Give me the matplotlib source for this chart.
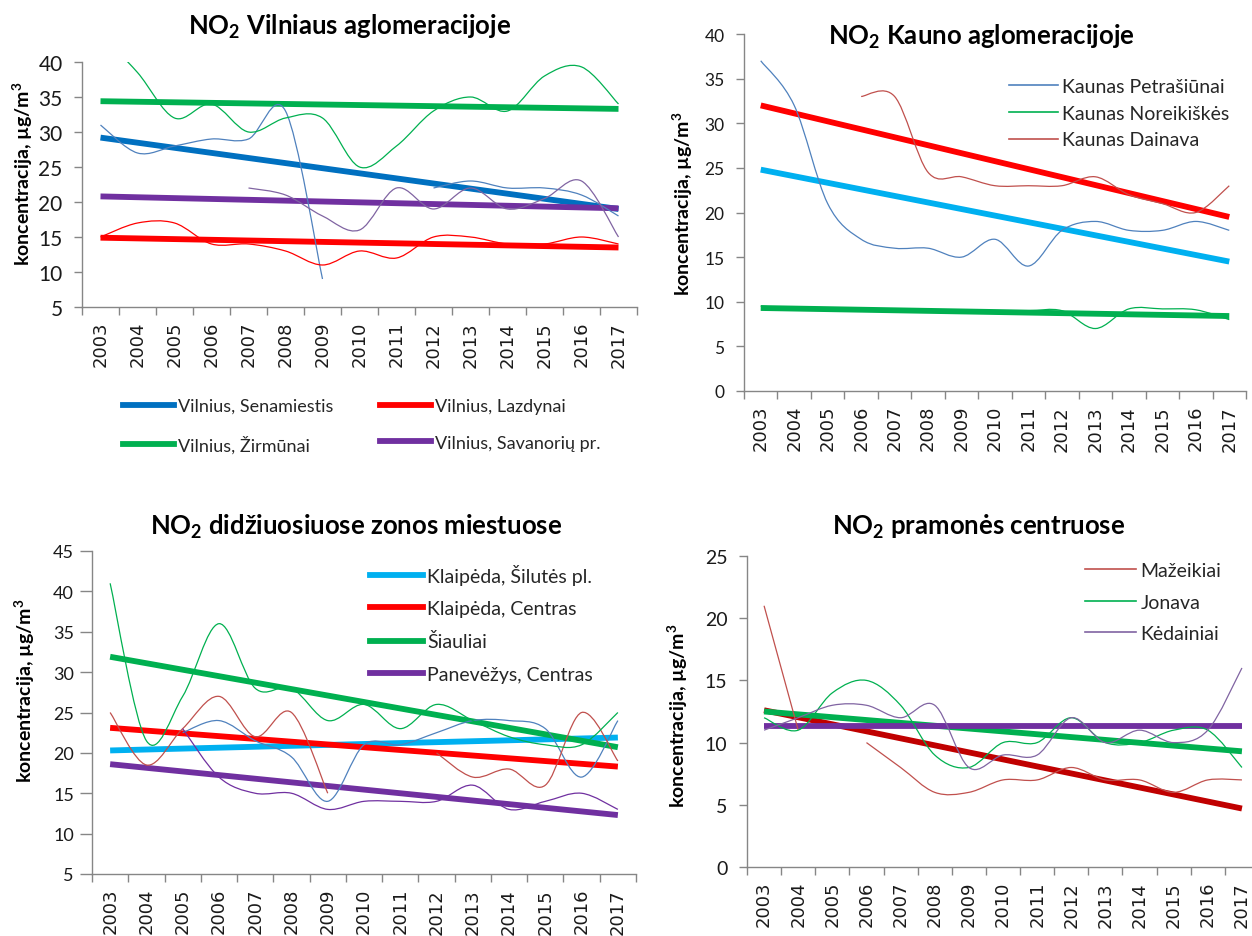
import numpy as np
import matplotlib
matplotlib.use('Agg')
import matplotlib.pyplot as plt
from matplotlib.path import Path
from matplotlib.patches import PathPatch
from matplotlib.lines import Line2D

plt.rcParams['font.family'] = ['Lato', 'DejaVu Sans']
plt.rcParams['mathtext.fontset'] = 'custom'
plt.rcParams['mathtext.rm'] = 'Lato'
plt.rcParams['mathtext.bf'] = 'Lato:bold'
plt.rcParams['mathtext.default'] = 'bf'

nan = np.nan
YEARS = [str(y) for y in range(2003, 2018)]

# --- Vilniaus aglomeracija ---
VIL_LABELS = ['Vilnius, Senamiestis', 'Vilnius, Lazdynai', 'Vilnius, Žirmūnai', 'Vilnius, Savanorių pr.']
VIL_SENAMIESTIS = [31, 27, 28, 29, 29, 33, 9, nan, nan, 22, 23, 22, 22, 21, 18]
VIL_LAZDYNAI = [15, 17, 17, 14, 14, 13, 11, 13, 12, 15, 15, 14, 14, 15, 14]
VIL_ZIRMUNAI = [44, 38.5, 32, 34, 30, 32, 32, 25, 28, 33, 35, 33, 38, 39.3, 34]
VIL_SAVANORIU = [nan, nan, nan, nan, 22, 21, 18, 16, 22, 19, 22, 19, 20.5, 23, 15]
VIL_TREND_START = [29.2, 14.9, 34.4, 20.8]
VIL_TREND_END = [19.0, 13.5, 33.3, 19.1]

# --- Kauno aglomeracija ---
KAU_LABELS = ['Kaunas Petrašiūnai', 'Kaunas Noreikiškės', 'Kaunas Dainava']
KAU_PETRASIUNAI = [37, 32, 21, 17, 16, 16, 15, 17, 14, 18, 19, 18, 18, 19, 18]
KAU_NOREIKISKES = [9.5, 9.3, 9.2, 9.1, 9.1, 9, 9, 9, 9, 9, 7, 9.2, 9.2, 9.1, 8]
KAU_DAINAVA = [nan, nan, nan, 33, 33, 24.5, 24, 23, 23, 23, 24, 22, 21, 20, 23]
KAU_TREND_START = [24.8, 9.3, 32.0]
KAU_TREND_END = [14.5, 8.4, 19.5]

# --- didžiuosiuose zonos miestuose ---
ZON_LABELS = ['Klaipėda, Šilutės pl.', 'Klaipėda, Centras', 'Šiauliai', 'Panevėžys, Centras']
KLA_SILUTES = [nan, nan, 22.5, 24, 21.5, 19.5, 14, 21, 21, 22.5, 24, 24, 23, 17, 24]
KLA_CENTRAS = [25, 18.5, 23, 27, 22, 25, 15, nan, nan, 20, 17, 18, 16, 25, 19]
SIAULIAI = [41, 21.5, 27, 36, 28, 28, 24, 26, 23, 26, 24, 22, 21, 21, 25]
PAN_CENTRAS = [nan, nan, 23, 17, 15, 15, 13, 14, 14, 14, 16, 13, 14, 15, 13]
ZON_TREND_START = [20.3, 23.1, 31.9, 18.6]
ZON_TREND_END = [21.9, 18.3, 20.7, 12.3]

# --- pramonės centrai ---
PRA_LABELS = ['Mažeikiai', 'Jonava', 'Kėdainiai']
MAZEIKIAI = [21, 11, nan, 10, 8, 6, 6, 7, 7, 8, 7, 7, 6, 7, 7]
JONAVA = [12, 11, 14, 15, 13, 9, 8, 10, 10, 12, 10, 10, 11, 11, 8]
KEDAINIAI = [11, 12, 13, 13, 12, 13, 8, 9, 9, 12, 10, 11, 10, 11, 16]
PRA_TREND_START = [12.6, 12.5, 11.3]
PRA_TREND_END = [4.7, 9.3, 11.3]

GRID_GRAY = '#868686'
W, H = 1252, 937


def smooth_line(ax, values, color, lw=0.9, zorder=4):
    """Excel-like smoothed line (Catmull-Rom as cubic Bezier), broken at gaps."""
    y = np.asarray(values, dtype=float)
    x = np.arange(len(y), dtype=float)
    idx = np.where(~np.isnan(y))[0]
    runs = np.split(idx, np.where(np.diff(idx) > 1)[0] + 1)
    for run in runs:
        if len(run) < 2:
            continue
        px, py = x[run], y[run]
        n = len(run)
        verts = [(px[0], py[0])]
        codes = [Path.MOVETO]
        for i in range(n - 1):
            i0 = max(i - 1, 0)
            i3 = min(i + 2, n - 1)
            c1 = (px[i] + (px[i + 1] - px[i0]) / 6, py[i] + (py[i + 1] - py[i0]) / 6)
            c2 = (px[i + 1] - (px[i3] - px[i]) / 6, py[i + 1] - (py[i3] - py[i]) / 6)
            verts += [c1, c2, (px[i + 1], py[i + 1])]
            codes += [Path.CURVE4] * 3
        ax.add_patch(PathPatch(Path(verts, codes), fill=False, edgecolor=color,
                               lw=lw, zorder=zorder))


def px_rect(left, top, right, bottom):
    return [left / W, 1 - bottom / H, (right - left) / W, (bottom - top) / H]


def style_axes(ax, ylim, ystep, ysize, ypad=8, ytick_len=6):
    ax.set_xlim(-0.5, 14.5)
    ax.set_ylim(*ylim)
    ax.set_yticks(np.arange(ylim[0], ylim[1] + 0.1, ystep))
    ax.set_xticks(np.arange(15))
    ax.set_xticklabels(YEARS, rotation=90, fontsize=13, family='DejaVu Sans', color='#1a1a1a')
    ax.set_xticks(np.arange(-0.5, 15, 1), minor=True)
    ax.tick_params(axis='x', which='major', length=0, pad=10)
    ax.tick_params(axis='x', which='minor', length=6, color=GRID_GRAY, width=1)
    ax.tick_params(axis='y', length=ytick_len, color=GRID_GRAY, width=1,
                   labelsize=ysize, pad=ypad, labelcolor='#1a1a1a')
    for s in ['top', 'right']:
        ax.spines[s].set_visible(False)
    for s in ['left', 'bottom']:
        ax.spines[s].set_color(GRID_GRAY)
        ax.spines[s].set_linewidth(1)


def trends(ax, start, end, colors):
    for a, b, c in zip(start, end, colors):
        ax.plot([0, 14], [a, b], color=c, lw=4.2, solid_capstyle='butt', zorder=3)


def title(x, y, s):
    fig.text(x / W, 1 - y / H, s, ha='center', va='baseline', fontsize=18.5, fontweight='bold')


def ylabel(x, y):
    fig.text(x / W, 1 - y / H, 'koncentracija, µg/m$^3$', rotation=90, ha='center',
             va='center', fontsize=14, fontweight='bold')


fig = plt.figure(figsize=(W / 100, H / 100), dpi=100)

# ===== Vilnius (top-left) =====
ax = fig.add_axes(px_rect(82, 63, 637, 308))
style_axes(ax, (5, 40), 5, 15)
vil_thin = ['#4F81BD', '#FF0000', '#00B050', '#8064A2']
vil_thick = ['#0070C0', '#FF0000', '#00B050', '#7030A0']
trends(ax, VIL_TREND_START, VIL_TREND_END, vil_thick)
for vals, c in zip([VIL_SENAMIESTIS, VIL_LAZDYNAI, VIL_ZIRMUNAI, VIL_SAVANORIU], vil_thin):
    smooth_line(ax, vals, c)
order = [0, 2, 1, 3]
handles = [Line2D([], [], color=vil_thick[i], lw=4.2) for i in order]
ax.legend(handles, [VIL_LABELS[i] for i in order], ncol=2, loc='upper left',
          bbox_to_anchor=(123 / W, 1 - 399 / H), bbox_transform=fig.transFigure,
          frameon=False, fontsize=13, handlelength=2.8, handletextpad=0.25,
          columnspacing=2.6, labelspacing=1.15, borderpad=0, borderaxespad=0,
          labelcolor='#262626')
title(350, 35, 'NO$_2$ Vilniaus aglomeracijoje')
ylabel(23, 174)

# ===== Kaunas (top-right) =====
ax = fig.add_axes(px_rect(744, 35, 1246, 392))
style_axes(ax, (0, 40), 5, 12.5)
kau_thin = ['#4F81BD', '#00B050', '#C0504D']
kau_thick = ['#00B0F0', '#00B050', '#FF0000']
trends(ax, KAU_TREND_START, KAU_TREND_END, kau_thick)
for vals, c in zip([KAU_PETRASIUNAI, KAU_NOREIKISKES, KAU_DAINAVA], kau_thin):
    smooth_line(ax, vals, c)
handles = [Line2D([], [], color=c, lw=1.2) for c in kau_thin]
ax.legend(handles, KAU_LABELS, loc='upper left',
          bbox_to_anchor=(1009 / W, 1 - 79 / H), bbox_transform=fig.transFigure,
          frameon=False, fontsize=14, handlelength=2.5, handletextpad=0.25,
          labelspacing=0.5, borderpad=0, borderaxespad=0, labelcolor='#262626')
title(981, 45, 'NO$_2$ Kauno aglomeracijoje')
ylabel(683, 204)

# ===== Zonos miestai (bottom-left) =====
ax = fig.add_axes(px_rect(92, 552, 636, 875))
style_axes(ax, (5, 45), 5, 13, ypad=4, ytick_len=9)
zon_thin = ['#4F81BD', '#C0504D', '#00B050', '#7030A0']
zon_thick = ['#00B0F0', '#FF0000', '#00B050', '#7030A0']
trends(ax, ZON_TREND_START, ZON_TREND_END, zon_thick)
for vals, c in zip([KLA_SILUTES, KLA_CENTRAS, SIAULIAI, PAN_CENTRAS], zon_thin):
    smooth_line(ax, vals, c)
handles = [Line2D([], [], color=c, lw=4.2) for c in zon_thick]
ax.legend(handles, ZON_LABELS, loc='upper left',
          bbox_to_anchor=(370 / W, 1 - 565 / H), bbox_transform=fig.transFigure,
          frameon=False, fontsize=14, handlelength=2.7, handletextpad=0.25,
          labelspacing=0.78, borderpad=0, borderaxespad=0, labelcolor='#262626')
title(356, 535, 'NO$_2$ didžiuosiuose zonos miestuose')
ylabel(25, 691)

# ===== Pramonės centrai (bottom-right) =====
ax = fig.add_axes(px_rect(747, 557, 1259, 868))
style_axes(ax, (0, 25), 5, 14)
pra_thin = ['#C0504D', '#00B050', '#8064A2']
pra_thick = ['#C00000', '#00B050', '#7030A0']
trends(ax, PRA_TREND_START, PRA_TREND_END, pra_thick)
for vals, c in zip([MAZEIKIAI, JONAVA, KEDAINIAI], pra_thin):
    smooth_line(ax, vals, c)
handles = [Line2D([], [], color=c, lw=1.2) for c in pra_thin]
ax.legend(handles, PRA_LABELS, loc='upper left',
          bbox_to_anchor=(1085 / W, 1 - 563 / H), bbox_transform=fig.transFigure,
          frameon=False, fontsize=14, handlelength=2.6, handletextpad=0.25,
          labelspacing=0.75, borderpad=0, borderaxespad=0, labelcolor='#262626')
title(979, 535, 'NO$_2$ pramonės centruose')
ylabel(678, 716)

fig.savefig('out.png', dpi=100)
